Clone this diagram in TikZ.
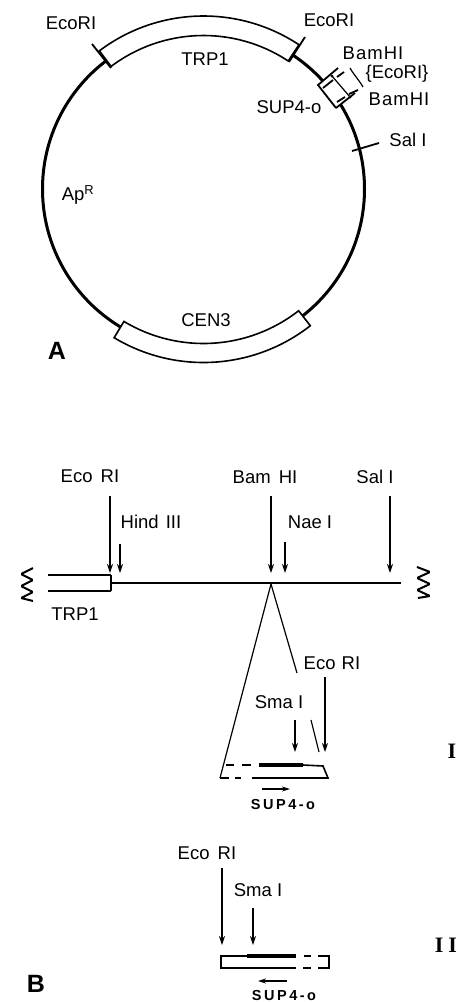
\documentclass[tikz,border=0pt]{standalone}
\usepackage{fontspec}
\setmainfont{Liberation Sans}
\newfontfamily\serifroman{Liberation Serif}
\usetikzlibrary{arrows.meta,positioning}
\tikzset{
  lbl/.style={inner sep=0pt,font=\fontsize{18.5}{19}\selectfont},
  widelbl/.style={lbl,font=\addfontfeature{LetterSpace=8}\fontsize{18.5}{19}\selectfont},
  panel/.style={inner sep=0pt,font=\bfseries\fontsize{25}{25}\selectfont},
  sup/.style={inner sep=0pt,font=\bfseries\fontsize{14.5}{15}\selectfont},
  roman/.style={inner sep=0pt,font=\serifroman\bfseries\fontsize{22}{22}\selectfont},
  cut/.style={line width=1.3pt,-{Stealth[length=9pt,width=6pt]}},
  dirn/.style={line width=2pt,-{Stealth[length=8pt,width=5pt]}},
  plasmid/.style={line width=3pt},
  insert/.style={line width=1.6pt,fill=white,line join=miter},
  tick/.style={line width=1.8pt},
  thin line/.style={line width=1.2pt},
  frag/.style={line width=1.6pt},
  heavy/.style={line width=3.6pt},
  wave/.style={line width=2pt,rounded corners=1.2pt}
}
\begin{document}
\begin{tikzpicture}[x=1pt,y=1pt]
\useasboundingbox (0,0) rectangle (458,-1002);
% ---------- panel A ----------
\coordinate (c) at (203.5,-189);
\draw[plasmid] (c) circle[radius=161pt];
\begin{scope}[shift={(c)}]
  \draw[insert] (56.5:153.5) arc[start angle=56.5,end angle=127,radius=153.5pt]
     -- (127:173) arc[start angle=127,end angle=56.5,radius=173pt] -- cycle;
  \draw[insert] (-121:154.5) arc[start angle=-121,end angle=-52,radius=154.5pt]
     -- (-52:173.5) arc[start angle=-52,end angle=-121,radius=173.5pt] -- cycle;
\end{scope}
% restriction site ticks
\coordinate (t1a) at (92,-44);  \coordinate (t1b) at (111,-68);
\coordinate (t2a) at (305,-37); \coordinate (t2b) at (289,-62);
\coordinate (t3a) at (352,-151); \coordinate (t3b) at (379,-143);
\draw[tick] (t1a) -- (t1b);
\draw[tick] (t2a) -- (t2b);
\draw[tick] (t3a) -- (t3b);
% SUP4-o insert
\coordinate (bA) at (318,-85);
\coordinate (bB) at (336,-108);
\coordinate (bC) at (338,-68);
\coordinate (bD) at (355,-93);
\fill[white] (bA) -- (bC) -- (bD) -- (bB) -- cycle;
\draw[tick] (bB) -- (bA) -- (bC);
\draw[tick] (bB) -- (bD);
\coordinate (d1a) at (323,-88); \coordinate (d1b) at (333,-80);
\coordinate (d1c) at (337,-77); \coordinate (d1d) at (344,-72);
\coordinate (d2a) at (337,-102); \coordinate (d2b) at (345,-97);
\coordinate (d2c) at (349,-94); \coordinate (d2d) at (358,-90);
\draw[tick] (d1a) -- (d1b) (d1c) -- (d1d) (d2a) -- (d2b) (d2c) -- (d2d);
\coordinate (v1) at (332,-76); \coordinate (v2) at (350,-97);
\draw[thin line] (v1) -- (v2);
\fill (v1) circle[radius=1.5pt] (v2) circle[radius=1.5pt];
\coordinate (s1) at (350,-68); \coordinate (s2) at (354,-75);
\coordinate (s3) at (359,-80); \coordinate (s4) at (363,-87);
\draw[thin line] (s1) .. controls (s2) and (s3) .. (s4);
\node[lbl] (lE1) at (71,-23) {EcoRI};
\node[lbl] (lE2) at (329,-20) {EcoRI};
\node[lbl] (lT) at (205,-59) {TRP1};
\node[lbl] (lB1) at (373,-53) {B\kern1pt a\kern1pt m\kern1pt H\kern1pt I};
\node[lbl] (lE3) at (397,-74) {\{EcoRI\}};
\node[lbl] (lB2) at (399,-99) {B\kern1pt a\kern1pt m\kern1pt H\kern1pt I};
\node[lbl] (lS) at (289,-107) {SUP4-o};
\node[lbl] (lSal) at (408,-140) {Sal I};
\node[lbl] (lAp) at (78,-195) {Ap\textsuperscript{R}};
\node[lbl] (lC) at (206,-320) {CEN3};
\node[panel] (pA) at (57,-351) {A};
% ---------- panel B, top line ----------
\node[lbl] (nE) at (90,-476) {Eco\kern3pt\ RI};
\node[lbl] (nH) at (151,-522) {Hind\kern2pt\ III};
\node[lbl] (nB) at (265,-477) {Bam\kern3pt\ HI};
\node[lbl] (nN) at (310,-522) {Nae I};
\node[lbl] (nS) at (375,-477) {Sal I};
\node[lbl] (nT) at (75,-614) {TRP1};
\coordinate (aE1) at (110,-496);  \coordinate (aE2) at (110,-573);
\coordinate (aH1) at (120,-544);  \coordinate (aH2) at (120,-573);
\coordinate (aB1) at (271,-496);  \coordinate (aB2) at (271,-573);
\coordinate (aN1) at (285,-542);  \coordinate (aN2) at (285,-573);
\coordinate (aS1) at (390,-496);\coordinate (aS2) at (390,-573);
\draw[cut] (aE1) -- (aE2);
\draw[cut] (aH1) -- (aH2);
\draw[cut] (aB1) -- (aB2);
\draw[cut] (aN1) -- (aN2);
\draw[cut] (aS1) -- (aS2);
\coordinate (ln1) at (112,-583); \coordinate (ln2) at (401,-583);
\draw[line width=2.2pt] (ln1) -- (ln2);
\coordinate (tr1) at (48,-575); \coordinate (tr2) at (111,-575);
\coordinate (tr3) at (111,-591); \coordinate (tr4) at (48,-591);
\draw[frag] (tr1) -- (tr2);
\draw[frag] (tr3) -- (tr4);
\draw[line width=2.4pt] (tr2) -- (tr3);
\draw[wave] (33,-568) -- (21,-574) -- (33,-580) -- (21,-586) -- (33,-592) -- (21,-598) -- (33,-601);
\draw[wave] (417,-567) -- (430,-572) -- (417,-578) -- (430,-584) -- (417,-590) -- (430,-596) -- (418,-598);
% expansion lines
\coordinate (apex) at (271,-584);
\coordinate (iBL) at (220,-778);
\coordinate (iR1) at (297,-673);
\coordinate (iR2) at (311,-720);
\coordinate (iR3) at (319,-752);
\draw[thin line] (apex) -- (iBL);
\draw[thin line] (apex) -- (iR1);
\draw[thin line] (iR2) -- (iR3);
% ---------- construct I ----------
\node[lbl] (nE2) at (332,-663) {Eco\kern1pt\ RI};
\node[lbl] (nM) at (279,-702) {Sma I};
\coordinate (aM1) at (295,-720); \coordinate (aM2) at (295,-752);
\coordinate (aF1) at (325,-677); \coordinate (aF2) at (325,-752);
\draw[cut] (aM1) -- (aM2);
\draw[cut] (aF1) -- (aF2);
\coordinate (iTL) at (226,-765); \coordinate (iT1) at (234,-765);
\coordinate (iT2) at (242,-765); \coordinate (iT3) at (251,-765);
\coordinate (iH1) at (259,-765); \coordinate (iH2) at (303,-765);
\coordinate (iTR) at (323,-766); \coordinate (iBR) at (328,-778);
\coordinate (iB1) at (229,-778); \coordinate (iB2) at (235,-778);
\coordinate (iB3) at (241,-778); \coordinate (iB4) at (252,-778);
\coordinate (iB5) at (259,-778);
\draw[frag] (iTL) -- (iT1) (iT2) -- (iT3);
\draw[heavy] (iH1) -- (iH2);
\draw[frag] (iH2) -- (iTR) -- (iBR) -- (iB5);
\draw[frag] (iBL) -- (iB1) (iB2) -- (iB3) (iB4) -- (iB5);
\coordinate (dI1) at (262,-789); \coordinate (dI2) at (290,-789);
\draw[dirn] (dI1) -- (dI2);
\node[sup] (sI) at (283,-804) {S\kern2.5pt U\kern2.5pt P\kern2.5pt 4\kern2.5pt -\kern2.5pt o};
\node[roman] (rI) at (452,-751) {I};
% ---------- construct II ----------
\node[lbl] (nE3) at (207,-853) {Eco\kern3pt\ RI};
\node[lbl] (nM2) at (258,-890) {Sma I};
\coordinate (bE1) at (222,-868); \coordinate (bE2) at (222,-945);
\coordinate (bM1) at (253,-908); \coordinate (bM2) at (253,-945);
\draw[cut] (bE1) -- (bE2);
\draw[cut] (bM1) -- (bM2);
\coordinate (jTL) at (221,-956); \coordinate (jBL) at (221,-968);
\coordinate (jT1) at (247,-956); \coordinate (jT2) at (296,-956);
\coordinate (jB1) at (296,-968);
\coordinate (jD1) at (304,-956); \coordinate (jD2) at (311,-956);
\coordinate (jD3) at (318,-956); \coordinate (jTR) at (329,-956);
\coordinate (jD4) at (303,-968); \coordinate (jD5) at (311,-968);
\coordinate (jD6) at (318,-968); \coordinate (jBR) at (329,-968);
\draw[frag] (jT1) -- (jTL) -- (jBL) -- (jB1);
\draw[heavy] (jT1) -- (jT2);
\draw[frag] (jD1) -- (jD2) (jD4) -- (jD5);
\draw[frag] (jD3) -- (jTR) -- (jBR) -- (jD6);
\coordinate (dII1) at (287,-981); \coordinate (dII2) at (258,-981);
\draw[dirn] (dII1) -- (dII2);
\node[sup] (sII) at (284,-995) {S\kern2.5pt U\kern2.5pt P\kern2.5pt 4\kern2.5pt -\kern2.5pt o};
\node[roman] (rII) at (446,-945) {I\kern5pt I};
\node[panel] (pB) at (36,-984) {B};
\end{tikzpicture}
\end{document}
